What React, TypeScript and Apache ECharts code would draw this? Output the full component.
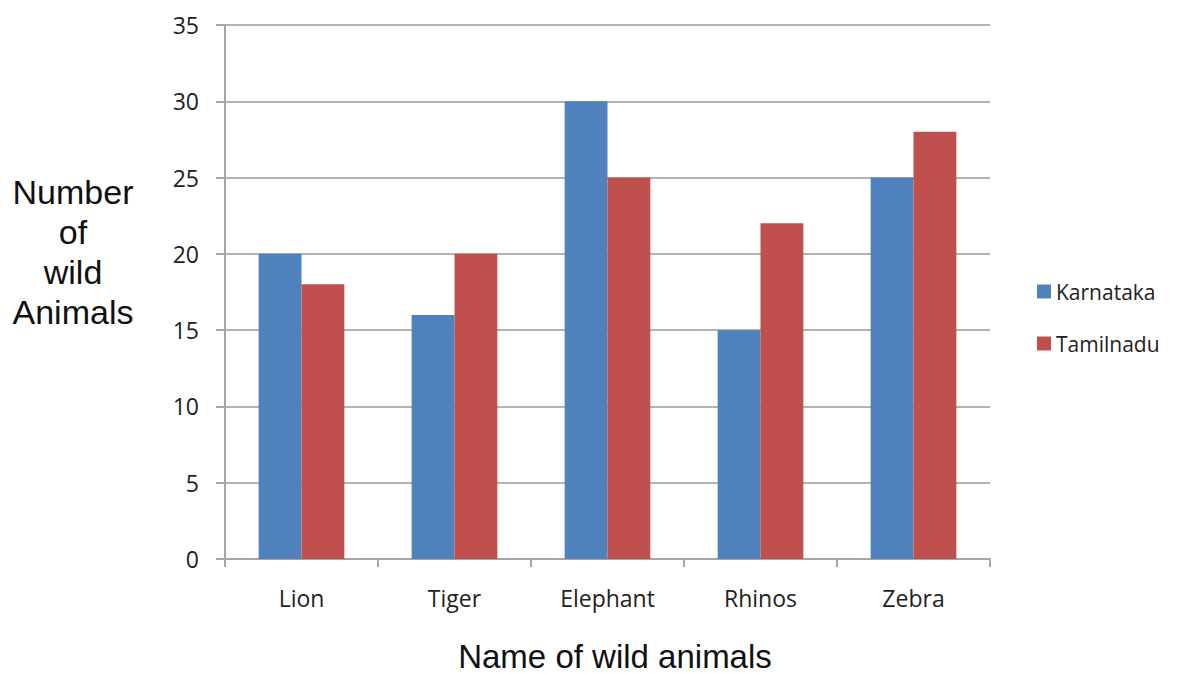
import React, { useEffect, useRef } from "react";
import * as echarts from "echarts";

const categories = ["Lion", "Tiger", "Elephant", "Rhinos", "Zebra"];
const karnataka = [20, 16, 30, 15, 25];
const tamilnadu = [18, 20, 25, 22, 28];
const seriesNames = ["Karnataka", "Tamilnadu"];

export default function App() {
  const ref = useRef<HTMLDivElement>(null);
  useEffect(() => {
    const chart = echarts.init(ref.current!, null, { renderer: "svg" });
    const labelFont = "'Open Sans', sans-serif";
    const titleFont = "'Liberation Sans', Arial, sans-serif";
    chart.setOption({
      animation: false,
      backgroundColor: "#ffffff",
      grid: { left: 225, right: 202, top: 25, bottom: 114 },
      legend: {
        orient: "vertical",
        left: 1032,
        top: 276,
        itemWidth: 14,
        itemHeight: 14,
        itemGap: 31,
        icon: "rect",
        textStyle: { fontFamily: labelFont, fontSize: 21, color: "#222" },
        data: seriesNames,
      },
      xAxis: {
        type: "category",
        data: categories,
        axisLine: { lineStyle: { color: "#a6a6a6", width: 2 } },
        axisTick: { show: true, length: 8, lineStyle: { color: "#a6a6a6", width: 2 } },
        axisLabel: { fontFamily: labelFont, fontSize: 23, color: "#222", margin: 27 },
      },
      yAxis: {
        type: "value",
        min: 0,
        max: 35,
        interval: 5,
        axisLine: { show: true, lineStyle: { color: "#a6a6a6", width: 2 } },
        axisTick: { show: true, length: 9, lineStyle: { color: "#a6a6a6", width: 2 } },
        axisLabel: { fontFamily: labelFont, fontSize: 23, color: "#222", margin: 26 },
        splitLine: { lineStyle: { color: "#b3b3b3", width: 2 } },
      },
      series: [
        {
          name: seriesNames[0],
          type: "bar",
          data: karnataka,
          barGap: "0%",
          barCategoryGap: "44%",
          itemStyle: { color: "#4f81bd" },
        },
        {
          name: seriesNames[1],
          type: "bar",
          data: tamilnadu,
          barGap: "0%",
          barCategoryGap: "44%",
          itemStyle: { color: "#c0504d" },
        },
      ],
      graphic: [
        {
          type: "text",
          x: 73,
          y: 252,
          style: {
            text: "Number\nof\nwild\nAnimals",
            fontFamily: titleFont,
            fontSize: 34,
            lineHeight: 40,
            fill: "#111",
            align: "center",
            verticalAlign: "middle",
          },
        },
        {
          type: "text",
          x: 615,
          y: 656,
          style: {
            text: "Name of wild animals",
            fontFamily: titleFont,
            fontSize: 33,
            fill: "#111",
            align: "center",
            verticalAlign: "middle",
          },
        },
      ],
    });
    return () => chart.dispose();
  }, []);
  return (
    <div
      ref={ref}
      style={{ position: "fixed", left: 0, top: 0, width: 1192, height: 673 }}
    />
  );
}
